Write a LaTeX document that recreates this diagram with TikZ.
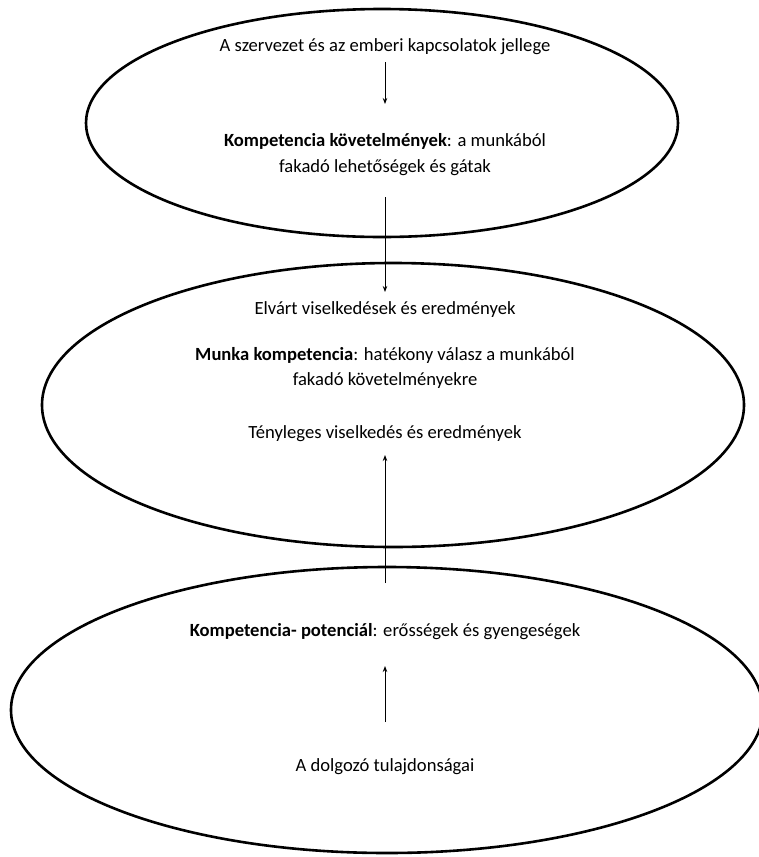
\documentclass[tikz,border=0pt]{standalone}
\usepackage{fontspec}
\setmainfont{Carlito}
\usetikzlibrary{shapes.geometric,arrows.meta}
\tikzset{
  oval/.style={draw=black, line width=2.6pt, ellipse, inner sep=0pt},
  lbl/.style={font=\fontsize{18.6}{22}\selectfont, align=center, inner sep=0pt},
  conn/.style={line width=0.9pt, -{Stealth[length=6pt,width=4.5pt]}}
}
\begin{document}
\begin{tikzpicture}[x=1pt,y=-1pt]
\useasboundingbox (0,0) rectangle (758,857);
\node[oval, minimum width=592pt, minimum height=228pt] (e1) at (382,123) {};
\node[oval, minimum width=702pt, minimum height=284pt] (e2) at (393,405) {};
\node[oval, minimum width=752pt, minimum height=286pt] (e3) at (387,710) {};

\node[lbl] (t1) at (385,47) {A szervezet és az emberi kapcsolatok jellege};
\node[lbl] (t2) at (385,141) {\textbf{Kompetencia követelmények}: a munkából};
\node[lbl] (t3) at (385,168) {fakadó lehetőségek és gátak};
\node[lbl] (t4) at (385,310) {Elvárt viselkedések és eredmények};
\node[lbl] (t5) at (385,355) {\textbf{Munka kompetencia}: hatékony válasz a munkából};
\node[lbl] (t6) at (385,381) {fakadó követelményekre};
\node[lbl] (t7) at (385,434) {Tényleges viselkedés és eredmények};
\node[lbl] (t8) at (385,632) {\textbf{Kompetencia- potenciál}: erősségek és gyengeségek};
\node[lbl] (t9) at (385,767) {A dolgozó tulajdonságai};

\coordinate (a1s) at (385,62);  \coordinate (a1e) at (385,104);
\coordinate (a2s) at (385,197); \coordinate (a2e) at (385,292);
\coordinate (a3s) at (385,583); \coordinate (a3e) at (385,455);
\coordinate (a4s) at (385,722); \coordinate (a4e) at (385,666);

\draw[conn] (a1s) -- (a1e);
\draw[conn] (a2s) -- (a2e);
\draw[conn] (a3s) -- (a3e);
\draw[conn] (a4s) -- (a4e);
\end{tikzpicture}
\end{document}
